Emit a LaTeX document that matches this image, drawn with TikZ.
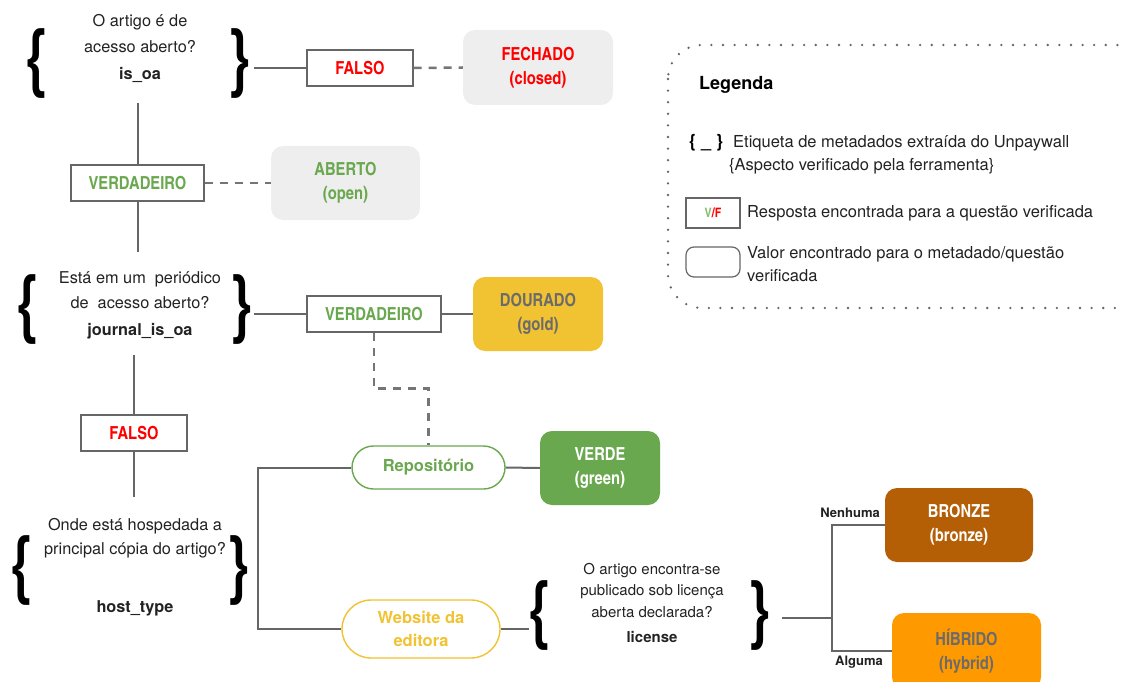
\documentclass[tikz,border=0pt]{standalone}
\usepackage{fontspec}
\setmainfont{texgyreheros}[Extension=.otf, UprightFont=*-regular, BoldFont=*-bold, ItalicFont=*-italic, BoldItalicFont=*-bolditalic]
\newfontfamily\cnbold{texgyreheroscn-bold.otf}
\usetikzlibrary{shapes.misc}

\definecolor{txt}{HTML}{222222}
\definecolor{lin}{HTML}{666666}
\definecolor{redv}{HTML}{FF0000}
\definecolor{greenv}{HTML}{6AA84F}
\definecolor{goldv}{HTML}{F1C232}
\definecolor{bronzev}{HTML}{B45F06}
\definecolor{orangev}{HTML}{FF9900}
\definecolor{paleg}{HTML}{EEEEEE}
\definecolor{dimtxt}{HTML}{6B6B6B}

\tikzset{
  conn/.style={draw=lin, line width=2pt},
  dashconn/.style={draw=lin!90, line width=2.5pt, dash pattern=on 8pt off 7pt},
  answer/.style={draw=lin, line width=1.2pt, fill=white, inner sep=0pt,
    minimum width=#1, minimum height=36pt, font=\fontsize{18}{20}\cnbold},
  answer/.default=106pt,
  outcome/.style={rounded corners=12pt, inner sep=0pt, align=center,
    font=\fontsize{18}{24}\cnbold},
  pill/.style={rounded rectangle, draw=#1, line width=1.4pt, fill=white, text=#1,
    inner sep=0pt, align=center, font=\fontsize{16.5}{23}\selectfont\bfseries},
  question/.style={text=txt, align=center, inner sep=0pt},
  brace/.style={text=black, inner sep=0pt, font=\fontsize{76}{76}\cnbold},
  legtxt/.style={text=txt, anchor=west, inner sep=0pt, align=left,
    font=\fontsize{16.5}{23}\selectfont},
  branchlbl/.style={text=txt, anchor=east, inner sep=0pt,
    font=\fontsize{13}{14}\selectfont\bfseries}
}

\newcommand{\lbr}{\scalebox{0.85}[1]{\{}}
\newcommand{\rbr}{\scalebox{0.85}[1]{\}}}

\begin{document}
\begin{tikzpicture}[x=1pt,y=-1pt]
\useasboundingbox (0,0) rectangle (1124,682);
\clip (0,0) rectangle (1124,682);

% ---------- question 1: is_oa ----------
\node[question, font=\fontsize{16.3}{26}\selectfont] (q1) at (140,48)
  {O artigo é de\\acesso aberto?\\[1pt]\textbf{is\_oa}};
\node[brace] (lb1) at (36,64) {\lbr};
\node[brace] (rb1) at (241,64) {\rbr};

\node[answer] (f1) at (360,68) {\textcolor{redv}{FALSO}};
\node[outcome, fill=paleg, text=redv, minimum width=150pt, minimum height=75pt]
  (fechado) at (538,67.5) {FECHADO\\(closed)};

\node[answer=133pt] (v1) at (137.5,183) {\textcolor{greenv}{VERDADEIRO}};
\node[outcome, fill=paleg, text=greenv, minimum width=149pt, minimum height=74pt]
  (aberto) at (345.5,183) {ABERTO\\(open)};

\coordinate (q1b) at (137.5,103);
\coordinate (q2t) at (137.5,252);
\draw[conn] (rb1.east |- f1.west) ++(2pt,0) -- (f1.west);
\draw[dashconn] (f1.east) -- (fechado.west);
\draw[conn] (q1b) -- (v1.north);
\draw[dashconn] (v1.east) -- (aberto.west);
\draw[conn] (v1.south) -- (q2t);

% ---------- question 2: journal_is_oa ----------
\node[question, font=\fontsize{16.3}{25}\selectfont] (q2) at (140,305)
  {Está em um\ \ periódico\\de\ \ acesso aberto?\\[2pt]\textbf{journal\_is\_oa}};
\node[brace] (lb2) at (27,310) {\lbr};
\node[brace] (rb2) at (243,310) {\rbr};

\node[answer=134pt] (v2) at (374,314) {\textcolor{greenv}{VERDADEIRO}};
\node[outcome, fill=goldv, text=dimtxt, minimum width=130pt, minimum height=74pt]
  (dourado) at (538,314) {DOURADO\\(gold)};
\draw[conn] (rb2.east |- v2.west) -- (v2.west);
\draw[conn] (v2.east) -- (dourado.west);

\node[answer] (f2) at (134,433) {\textcolor{redv}{FALSO}};
\coordinate (q2b) at (134,355);
\coordinate (q3t) at (134,497);
\draw[conn] (q2b) -- (f2.north);
\draw[conn] (f2.south) -- (q3t);

% ---------- question 3: host_type ----------
\node[question, font=\fontsize{16.3}{24}\selectfont] (q3) at (135,567)
  {Onde está hospedada a\\principal cópia do artigo?\\[34pt]\textbf{host\_type}};
\node[brace] (lb3) at (21,571) {\lbr};
\node[brace] (rb3) at (240,571) {\rbr};

\node[pill=greenv, minimum width=153pt, minimum height=43pt] (repo) at (428.5,467.5) {Repositório};
\node[outcome, fill=greenv, text=white, minimum width=120pt, minimum height=74pt]
  (verde) at (600,468) {VERDE\\(green)};
\node[pill=goldv, minimum width=158pt, minimum height=58pt]
  (web) at (421,629) {Website da\\editora};

\coordinate (hostTop) at (258,467.5);
\coordinate (hostBot) at (258,629);
\draw[conn] (repo.west) -- (hostTop) -- (hostBot) -- (web.west);
\draw[conn] (repo.east) -- (verde.west);
\draw[dashconn] (v2.south) -- ++(0,56) -| (repo.north);

% ---------- question 4: license ----------
\node[question, font=\fontsize{15}{21.5}\selectfont] (q4) at (652,603)
  {O artigo encontra-se\\publicado sob licença\\aberta declarada?\\[4pt]\textbf{license}};
\node[brace] (lb4) at (539,616) {\lbr};
\node[brace] (rb4) at (761,616) {\rbr};
\draw[conn] (web.east) -- (lb4.west |- web.east);

\node[outcome, fill=bronzev, text=white, minimum width=148pt, minimum height=74pt]
  (bronze) at (959,525) {BRONZE\\(bronze)};
\node[outcome, fill=orangev, text=dimtxt, minimum width=149pt, minimum height=76pt]
  (hibrido) at (966.5,651) {HÍBRIDO\\(hybrid)};

\coordinate (licOut) at (782,618);
\coordinate (licJ) at (832,618);
\draw[conn, line width=1.5pt] (licOut) -- (licJ);
\draw[conn, line width=1.5pt] (bronze.west) -| (licJ) |- (hibrido.west);
\node[branchlbl] (nenhuma) at (880,513) {Nenhuma};
\node[branchlbl] (alguma) at (883,662) {Alguma};

% ---------- legend ----------
\draw[draw=lin, line width=2.6pt, line cap=round, dash pattern=on 0pt off 11.6pt,
  rounded corners=34pt] (668,45) rectangle (1150,308);
\node[text=black, anchor=west, inner sep=0pt, font=\fontsize{18}{20}\selectfont\bfseries]
  (legtitle) at (699,85) {Legenda};
\node[text=black, anchor=west, inner sep=0pt, font=\fontsize{18}{20}\selectfont\bfseries]
  (legbr) at (689,143) {\{\ \_\ \}};
\node[legtxt] (leg1) at (733,143) {Etiqueta de metadados extraída do Unpaywall};
\node[legtxt] (leg1b) at (729,166) {\{Aspecto verificado pela ferramenta\}};
\node[draw=lin, line width=1.2pt, minimum width=54pt, minimum height=30pt, inner sep=0pt,
  font=\fontsize{13}{14}\cnbold] (legvf) at (713,213)
  {\textcolor{greenv!80}{V}\textcolor{redv}{/F}};
\node[legtxt] (leg2) at (747,213) {Resposta encontrada para a questão verificada};
\node[draw=lin, line width=1.2pt, rounded corners=8pt, minimum width=54pt, minimum height=30pt,
  inner sep=0pt] (legval) at (713,262) {};
\node[legtxt] (leg3) at (747,264.5) {Valor encontrado para o metadado/questão\\verificada};
\end{tikzpicture}
\end{document}
